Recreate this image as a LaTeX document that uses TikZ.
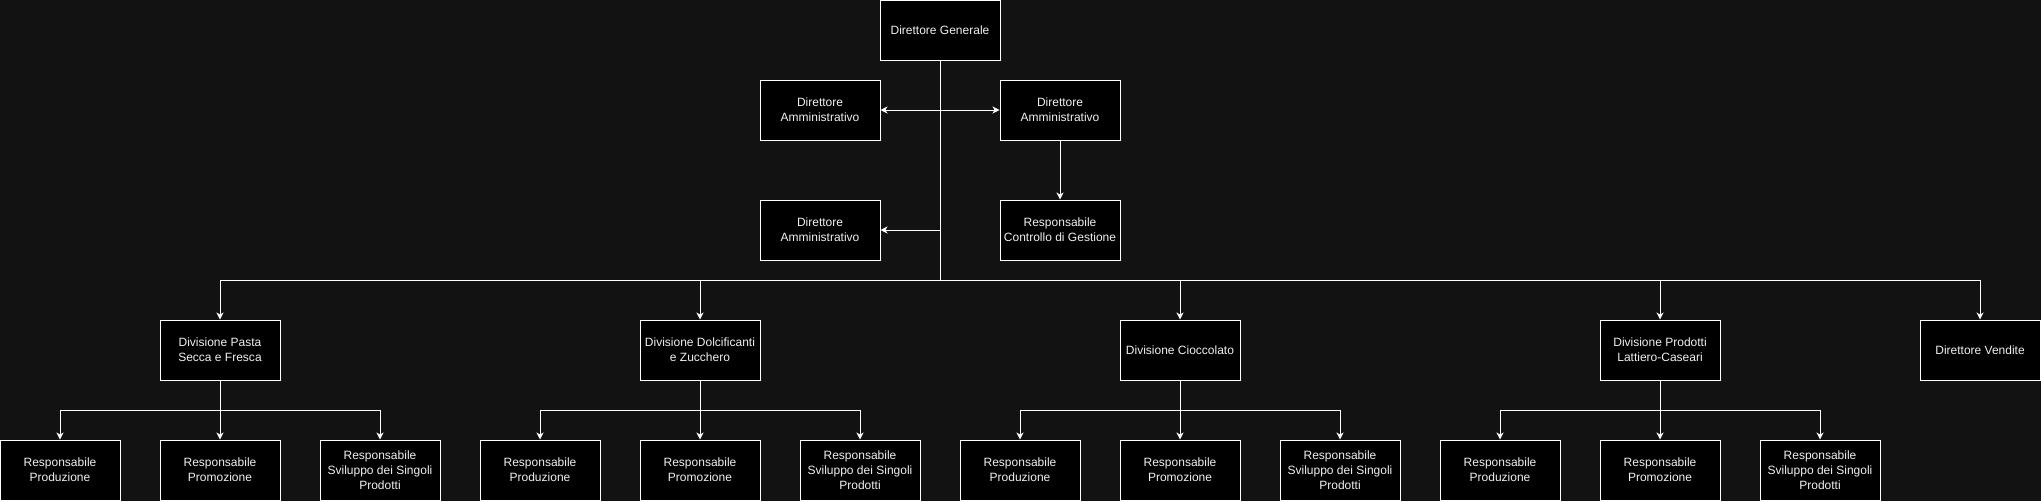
\documentclass[tikz,border=0pt]{standalone}
\usepackage{fontspec}
\setmainfont{Liberation Sans}
\usetikzlibrary{arrows.meta}
\definecolor{bg}{HTML}{121212}
\definecolor{txt}{HTML}{F0F0F0}
\tikzset{
  box/.style={draw=white, fill=black, line width=1pt, minimum width=120pt, minimum height=60pt,
    inner sep=0pt, align=center, text=txt, font=\fontsize{12}{15}\selectfont},
  conn/.style={draw=white, line width=1pt},
  arr/.style={conn, -{Stealth[length=7pt,width=7pt,inset=2pt]}},
  darr/.style={conn, {Stealth[length=7pt,width=7pt,inset=2pt]}-{Stealth[length=7pt,width=7pt,inset=2pt]}}
}
\begin{document}
\begin{tikzpicture}[x=1pt,y=-1pt]
\fill[bg] (0,0) rectangle (2041,501);
\useasboundingbox (0,0) rectangle (2041,501);

\node[box] (dg) at (940,30) {Direttore Generale};
\node[box] (da1) at (820,110) {Direttore\\Amministrativo};
\node[box] (da2) at (1060,110) {Direttore\\Amministrativo};
\node[box] (da3) at (820,230) {Direttore\\Amministrativo};
\node[box] (rcg) at (1060,230) {Responsabile\\Controllo di Gestione};

\coordinate (bus) at (940,280);
\coordinate (mid) at (940,230);

\node[box] (d1) at (220,350) {Divisione Pasta\\Secca e Fresca};
\node[box] (d2) at (700,350) {Divisione Dolcificanti\\e Zucchero};
\node[box] (d3) at (1180,350) {Divisione Cioccolato};
\node[box] (d4) at (1660,350) {Divisione Prodotti\\Lattiero-Caseari};
\node[box] (dv) at (1980,350) {Direttore Vendite};

\foreach \d/\c in {d1/220,d2/700,d3/1180,d4/1660}{
  \node[box] (\d a) at (\c-160,470) {Responsabile\\Produzione};
  \node[box] (\d b) at (\c,470) {Responsabile\\Promozione};
  \node[box] (\d c) at (\c+160,470) {Responsabile\\Sviluppo dei Singoli\\Prodotti};
  \coordinate (\d bus) at (\c,410);
  \draw[conn] (\d.south) -- (\d bus);
  \draw[arr] (\d bus) -| (\d a.north);
  \draw[arr] (\d bus) -- (\d b.north);
  \draw[arr] (\d bus) -| (\d c.north);
}

\draw[conn] (dg.south) -- (bus);
\draw[darr] (da1.east) -- (da2.west);
\draw[arr] (mid) -- (da3.east);
\draw[arr] (da2.south) -- (rcg.north);
\foreach \d in {d1,d2,d3,d4,dv}{
  \draw[arr] (bus) -| (\d.north);
}
\end{tikzpicture}
\end{document}
